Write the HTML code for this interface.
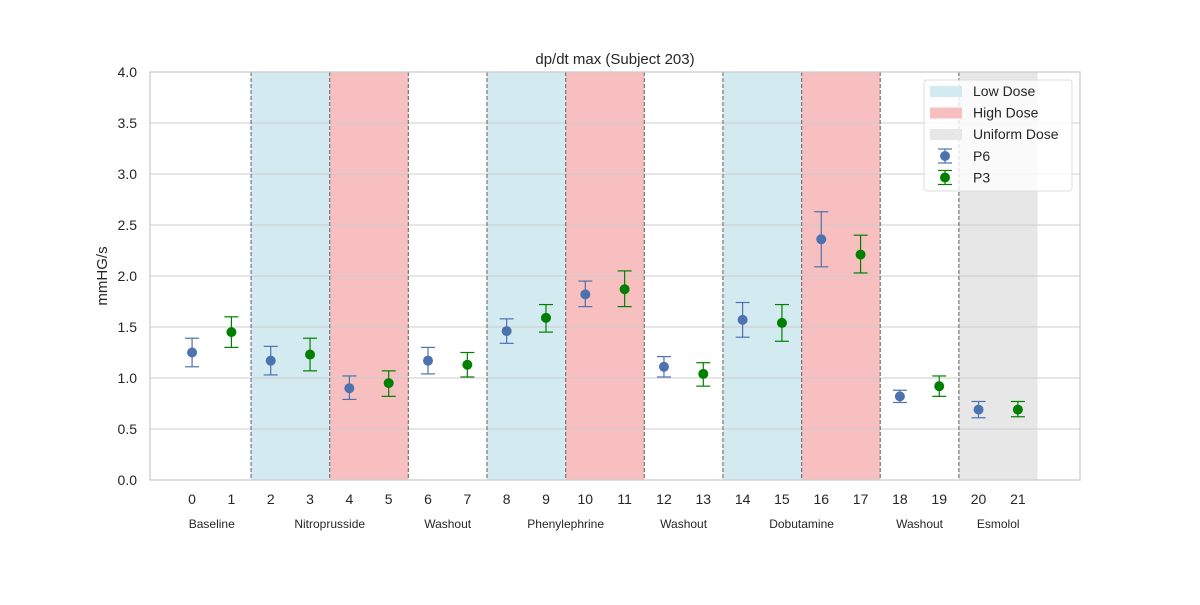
<!DOCTYPE html>
<html><head><meta charset="utf-8">
<style>
body{margin:0;background:#fff;}
svg text{font-family:"Liberation Sans",Arial,sans-serif;fill:#262626;}
</style></head>
<body>
<svg id="chart" width="1200" height="600" viewBox="0 0 1200 600" xmlns="http://www.w3.org/2000/svg">
<rect width="1200" height="600" fill="#fff"/>
<g id="bands"></g><g id="grid"></g><g id="vlines"></g><g id="marks"></g><g id="axes"></g><g id="legend"></g>
</svg>
<script>
const p6Idx=[0,2,4,6,8,10,12,14,16,18,20];
const p6Val=[1.25,1.17,0.90,1.17,1.46,1.82,1.11,1.57,2.36,0.82,0.69];
const p6Lo=[1.11,1.03,0.79,1.04,1.34,1.70,1.01,1.40,2.09,0.76,0.61];
const p6Hi=[1.39,1.31,1.02,1.30,1.58,1.95,1.21,1.74,2.63,0.88,0.77];
const p3Idx=[1,3,5,7,9,11,13,15,17,19,21];
const p3Val=[1.45,1.23,0.95,1.13,1.59,1.87,1.04,1.54,2.21,0.92,0.69];
const p3Lo=[1.30,1.07,0.82,1.01,1.45,1.70,0.92,1.36,2.03,0.82,0.62];
const p3Hi=[1.60,1.39,1.07,1.25,1.72,2.05,1.15,1.72,2.40,1.02,0.77];
const bandStart=[1.5,3.5,7.5,9.5,13.5,15.5,19.5];
const bandType=['low','high','low','high','low','high','uniform'];
const dividers=[1.5,3.5,5.5,7.5,9.5,11.5,13.5,15.5,17.5,19.5];
const groupNames=['Baseline','Nitroprusside','Washout','Phenylephrine','Washout','Dobutamine','Washout','Esmolol'];
const groupCenters=[0.5,3.5,6.5,9.5,12.5,15.5,18.5,20.5];
const yTicks=[0,0.5,1,1.5,2,2.5,3,3.5,4];
const xTicks=[0,1,2,3,4,5,6,7,8,9,10,11,12,13,14,15,16,17,18,19,20,21];

const L=150,R=1080,T=72,B=480,xmin=-1.07,xmax=22.58;
const X=v=>L+(v-xmin)/(xmax-xmin)*(R-L);
const Y=v=>B-(v/4)*(B-T);
const NS='http://www.w3.org/2000/svg';
function mk(tag,attrs,parent,txt){const e=document.createElementNS(NS,tag);for(const k in attrs)e.setAttribute(k,attrs[k]);if(txt!==undefined)e.textContent=txt;document.getElementById(parent).appendChild(e);return e;}
const bandColor={low:'#d4eaf1',high:'#f7bfbf',uniform:'#e7e7e7'};

bandStart.forEach((s,i)=>{
 const r=mk('rect',{x:X(s),y:T,width:X(s+2)-X(s),height:B-T,fill:bandColor[bandType[i]]},'bands');
 
 
});
yTicks.forEach(t=>{
 const l=mk('line',{x1:L,x2:R,y1:Y(t),y2:Y(t),stroke:'#cccccc','stroke-width':1},'grid');
 
 
 const tx=mk('text',{x:L-13,y:Y(t)+5,'text-anchor':'end','font-size':14},'axes',t.toFixed(1));
 
 
});
dividers.forEach(d=>{
 const l=mk('line',{x1:X(d),x2:X(d),y1:T,y2:B,stroke:'#777','stroke-width':1.2,'stroke-dasharray':'4,2'},'vlines');
 
 
});
xTicks.forEach(t=>{
 const tx=mk('text',{x:X(t),y:504,'text-anchor':'middle','font-size':14},'axes',String(t));
 
 
});
groupNames.forEach((g,i)=>{
 const tx=mk('text',{x:X(groupCenters[i]),y:528,'text-anchor':'middle','font-size':12},'axes',g);
 
 
});
function series(idx,val,lo,hi,col,ecol,name){
 idx.forEach((x,i)=>{
  const cx=X(x);
  const g=mk('g',{},'marks');
  
  
  [['line',{x1:cx,x2:cx,y1:Y(lo[i]),y2:Y(hi[i])}],['line',{x1:cx-7,x2:cx+7,y1:Y(lo[i]),y2:Y(lo[i])}],['line',{x1:cx-7,x2:cx+7,y1:Y(hi[i]),y2:Y(hi[i])}]].forEach(([t,a])=>{
   const e=document.createElementNS(NS,t);for(const k in a)e.setAttribute(k,a[k]);e.setAttribute('stroke',ecol);e.setAttribute('stroke-width',1.2);g.appendChild(e);
  });
  const c=document.createElementNS(NS,'circle');c.setAttribute('cx',cx);c.setAttribute('cy',Y(val[i]));c.setAttribute('r',5);c.setAttribute('fill',col);g.appendChild(c);
 });
}
series(p6Idx,p6Val,p6Lo,p6Hi,'#4c72b0','#4c72b0','p6');
series(p3Idx,p3Val,p3Lo,p3Hi,'#008000','#008000','p3');

const frame=mk('rect',{x:L,y:T,width:R-L,height:B-T,fill:'none',stroke:'#cccccc','stroke-width':1.3},'axes');


const title=mk('text',{x:(L+R)/2,y:64,'text-anchor':'middle','font-size':15},'axes','dp/dt max (Subject 203)');


const yt=mk('text',{x:0,y:0,'text-anchor':'middle','font-size':15,transform:'translate(107,276) rotate(-90)'},'axes','mmHG/s');



// legend
const lb=mk('rect',{x:924,y:80,width:148,height:111,rx:3,fill:'#ffffff','fill-opacity':0.8,stroke:'#dddddd'},'legend');


const legItems=[['Low Dose','low'],['High Dose','high'],['Uniform Dose','uniform']];
legItems.forEach((it,i)=>{
 const y=91+i*21.5;
 const r=mk('rect',{x:930,y:y-5,width:32,height:11,fill:bandColor[it[1]]},'legend');
 
 
 const t=mk('text',{x:973,y:y+5,'font-size':14},'legend',it[0]);
 
 
});
[['P6','#4c72b0'],['P3','#008000']].forEach((it,i)=>{
 const y=156+i*21.5;
 const g=mk('g',{stroke:it[1],'stroke-width':1.2},'legend');
 
 
 g.innerHTML=`<line x1="945" x2="945" y1="${y-7}" y2="${y+7}"/><line x1="938" x2="952" y1="${y-7}" y2="${y-7}"/><line x1="938" x2="952" y1="${y+7}" y2="${y+7}"/><circle cx="945" cy="${y}" r="5" fill="${it[1]}" stroke="none"/>`;
 const t=mk('text',{x:973,y:y+5,'font-size':14},'legend',it[0]);
 
 
});
</script>
</body></html>
